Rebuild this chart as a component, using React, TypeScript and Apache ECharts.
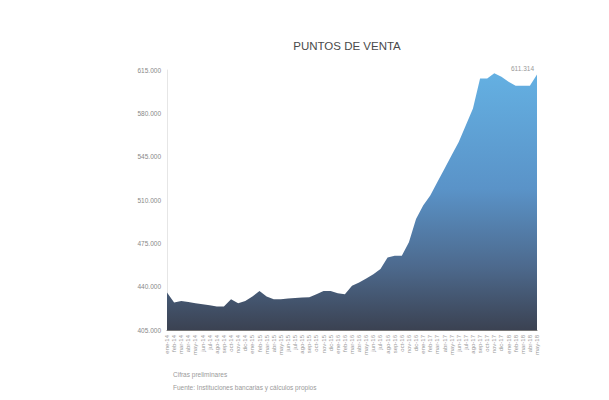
import React, { useEffect, useRef } from "react";
import * as echarts from "echarts";

const title = "PUNTOS DE VENTA";
const note1 = "Cifras preliminares";
const note2 = "Fuente: Instituciones bancarias y cálculos propios";

const months = ["ene", "feb", "mar", "abr", "may", "jun", "jul", "ago", "sep", "oct", "nov", "dic"];
const categories: string[] = [];
for (let y = 14; y <= 18; y++) {
  for (let m = 0; m < 12; m++) {
    if (categories.length < 53) categories.push(`${months[m]}-${y}`);
  }
}

const values = [
  435300, 427200, 428500, 427700, 426600, 425800, 425000, 423900, 423900, 429900,
  426600, 428500, 432000, 436400, 432000, 429900, 429900, 430400, 430900, 431200,
  431500, 433900, 436600, 436400, 434700, 433900, 440700, 443400, 446600, 450100,
  454200, 463600, 465000, 465000, 475800, 494700, 505500, 513600, 524500, 535300,
  546100, 556900, 570400, 583900, 608200, 608200, 612300, 609600, 605500, 602300,
  602300, 602300, 611314,
];

const yTicks = [405000, 440000, 475000, 510000, 545000, 580000, 615000];

const fmt = (v: number) => String(Math.round(v)).replace(/\B(?=(\d{3})+(?!\d))/g, ".");

export default function App() {
  const ref = useRef<HTMLDivElement>(null);
  useEffect(() => {
    if (!ref.current) return;
    const chart = echarts.init(ref.current, null, { renderer: "svg" });
    chart.setOption({
      animation: false,
      backgroundColor: "#ffffff",
      title: {
        text: title,
        left: 342,
        top: 35,
        textAlign: "center",
        textStyle: { fontFamily: "Liberation Sans, Arial", fontSize: 11.5, fontWeight: "normal", color: "#4a4a4a" },
      },
      graphic: [
        { type: "text", left: 173, top: 371, style: { text: note1, fontSize: 6.5, fill: "#9a9a9a", fontFamily: "Liberation Sans, Arial" } },
        { type: "text", left: 173, top: 384, style: { text: note2, fontSize: 6.5, fill: "#9a9a9a", fontFamily: "Liberation Sans, Arial" } },
      ],
      grid: { left: 167, right: 72, top: 70, bottom: 70 },
      xAxis: {
        type: "category",
        data: categories,
        boundaryGap: false,
        axisLine: { lineStyle: { color: "#777", width: 1 } },
        axisTick: { show: false },
        axisLabel: {
          interval: 0,
          rotate: 90,
          fontSize: 6,
          color: "#999",
          margin: 5,
          fontFamily: "Liberation Sans, Arial",
        },
      },
      yAxis: {
        type: "value",
        min: 405000,
        max: 615000,
        axisLine: { show: true, lineStyle: { color: "#e6e6e6" } },
        axisTick: { show: false },
        splitLine: { show: false },
        axisLabel: {
          customValues: yTicks,
          formatter: (v: number) => fmt(v),
          fontSize: 6.5,
          color: "#888",
          margin: 6,
          fontFamily: "Liberation Sans, Arial",
        },
      },
      series: [
        {
          type: "line",
          data: values,
          symbol: "none",
          lineStyle: { width: 0 },
          endLabel: {
            show: true,
            formatter: (p: any) => fmt(p.value),
            fontSize: 6.5,
            color: "#999",
            backgroundColor: "#ffffff",
            padding: [2, 3],
            offset: [-37, -6],
            fontFamily: "Liberation Sans, Arial",
          },
          areaStyle: {
            opacity: 1,
            color: new echarts.graphic.LinearGradient(0, 0, 0, 1, [
              { offset: 0, color: "#64b0e2" },
              { offset: 0.45, color: "#5a93c8" },
              { offset: 0.75, color: "#4d6a8e" },
              { offset: 1, color: "#3b4252" },
            ]),
          },
        },
      ],
    });
    return () => chart.dispose();
  }, []);
  return <div ref={ref} style={{ width: 609, height: 400, position: "absolute", left: 0, top: 0 }} />;
}
